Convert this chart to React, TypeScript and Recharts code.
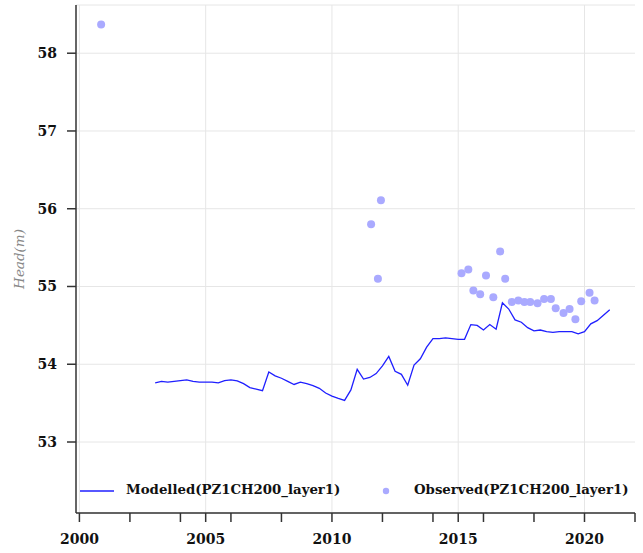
import React from 'react';
import {
  ComposedChart,
  Line,
  Scatter,
  XAxis,
  YAxis,
  CartesianGrid,
  ReferenceLine,
} from 'recharts';

// Modelled head, quarterly model output (decimal year, m)
const modelledYears = [
  2003.0, 2003.25, 2003.5, 2003.75, 2004.0, 2004.25, 2004.5, 2004.75,
  2005.0, 2005.25, 2005.5, 2005.75, 2006.0, 2006.25, 2006.5, 2006.75,
  2007.0, 2007.25, 2007.5, 2007.75, 2008.0, 2008.25, 2008.5, 2008.75,
  2009.0, 2009.25, 2009.5, 2009.75, 2010.0, 2010.25, 2010.5, 2010.75,
  2011.0, 2011.25, 2011.5, 2011.75, 2012.0, 2012.25, 2012.5, 2012.75,
  2013.0, 2013.25, 2013.5, 2013.75, 2014.0, 2014.25, 2014.5, 2014.75,
  2015.0, 2015.25, 2015.5, 2015.75, 2016.0, 2016.25, 2016.5, 2016.75,
  2017.0, 2017.25, 2017.5, 2017.75, 2018.0, 2018.25, 2018.5, 2018.75,
  2019.0, 2019.25, 2019.5, 2019.75, 2020.0, 2020.25, 2020.5, 2020.75,
  2021.0,
];
const modelledHead = [
  53.76, 53.78, 53.77, 53.78, 53.79, 53.8, 53.78, 53.77,
  53.77, 53.77, 53.76, 53.79, 53.8, 53.785, 53.75, 53.7,
  53.68, 53.66, 53.9, 53.85, 53.82, 53.78, 53.74, 53.77,
  53.75, 53.725, 53.69, 53.63, 53.59, 53.56, 53.535, 53.67,
  53.935, 53.81, 53.83, 53.88, 53.98, 54.1, 53.91, 53.87,
  53.73, 53.99, 54.07, 54.22, 54.33, 54.33, 54.34, 54.33,
  54.32, 54.32, 54.51, 54.5, 54.44, 54.51, 54.45, 54.79,
  54.71, 54.57, 54.54, 54.47, 54.43, 54.44, 54.42, 54.41,
  54.42, 54.42, 54.42, 54.39, 54.42, 54.52, 54.56, 54.63,
  54.7,
];

// Observed head (decimal year, m)
const observedYears = [
  2000.86, 2011.55, 2011.82, 2011.94, 2015.13, 2015.4, 2015.6, 2015.87,
  2016.1, 2016.39, 2016.66, 2016.86, 2017.12, 2017.38, 2017.62, 2017.85,
  2018.14, 2018.4, 2018.67, 2018.86, 2019.17, 2019.41, 2019.64, 2019.87,
  2020.2, 2020.4,
];
const observedHead = [
  58.37, 55.8, 55.1, 56.11, 55.17, 55.22, 54.95, 54.9,
  55.14, 54.86, 55.45, 55.1, 54.8, 54.82, 54.8, 54.8,
  54.785, 54.84, 54.84, 54.72, 54.66, 54.71, 54.58, 54.81,
  54.92, 54.82,
];

const xTicks = [2000, 2002, 2004, 2005, 2006, 2008, 2010, 2012, 2014, 2015, 2016, 2018, 2020, 2022];
const xGrid = [2000, 2005, 2010, 2015, 2020];
const yTicks = [53, 54, 55, 56, 57, 58];

const modelled = modelledYears.map((x, i) => ({ x, y: modelledHead[i] }));
const observed = observedYears.map((x, i) => ({ x, y: observedHead[i] }));

const FONT = '"DejaVu Serif", serif';
const LINE_COLOR = '#1f1fff';
const DOT_COLOR = '#aaaaff';
const AXIS_COLOR = '#333333';

const tickStyle = { fill: '#111', fontSize: 14, fontWeight: 700, fontFamily: FONT };

// legend drawn over the plot, bottom-left, like the source figure
const LegendBox = () => (
  <div style={{ position: 'absolute', left: 0, top: 479, width: 643, height: 24, fontFamily: FONT, fontWeight: 700, fontSize: 13.3, color: '#111' }}>
    <svg style={{ position: 'absolute', left: 80, top: 0 }} width={36} height={24}>
      <line x1={0} y1={12} x2={34} y2={12} stroke={LINE_COLOR} strokeWidth={1.3} />
    </svg>
    <span style={{ position: 'absolute', left: 126, top: 3, whiteSpace: 'nowrap' }}>Modelled(PZ1CH200_layer1)</span>
    <svg style={{ position: 'absolute', left: 380, top: 0 }} width={12} height={24}>
      <circle cx={6} cy={12} r={3.2} fill={DOT_COLOR} />
    </svg>
    <span style={{ position: 'absolute', left: 414, top: 3, whiteSpace: 'nowrap' }}>Observed(PZ1CH200_layer1)</span>
  </div>
);

export default function App() {
  return (
    <div style={{ position: 'absolute', left: 0, top: 0, width: 643, height: 553, background: '#fff' }}>
      <ComposedChart width={643} height={553} margin={{ top: 5, right: 8, bottom: 0, left: 0 }}>
        <CartesianGrid vertical={false} stroke="#e6e6e6" />
        {xGrid.map((g) => (
          <ReferenceLine key={g} x={g} stroke="#e6e6e6" />
        ))}
        <XAxis
          type="number"
          dataKey="x"
          domain={[1999.865, 2022]}
          ticks={xTicks}
          interval={0}
          allowDataOverflow
          height={40}
          tickSize={9}
          tickMargin={12}
          stroke={AXIS_COLOR}
          strokeWidth={1.5}
          tick={tickStyle}
          tickFormatter={(v: number) => (v % 5 === 0 ? String(v) : '')}
        />
        <YAxis
          type="number"
          dataKey="y"
          domain={[52.087, 58.62]}
          ticks={yTicks}
          interval={0}
          allowDataOverflow
          width={76}
          tickSize={9}
          tickMargin={10}
          stroke={AXIS_COLOR}
          strokeWidth={1.5}
          tick={tickStyle}
          label={() => (
            <text
              x={19}
              y={259}
              transform="rotate(-90 19 259)"
              textAnchor="middle"
              dominantBaseline="central"
              fill="#888"
              fontStyle="italic"
              fontSize={13.5}
              fontFamily={FONT}
            >
              Head(m)
            </text>
          )}
        />
        <Line
          data={modelled}
          dataKey="y"
          type="linear"
          stroke={LINE_COLOR}
          strokeWidth={1.3}
          dot={false}
          activeDot={false}
          isAnimationActive={false}
        />
        <Scatter
          data={observed}
          dataKey="y"
          fill={DOT_COLOR}
          isAnimationActive={false}
          shape={(p: any) => <circle cx={p.cx} cy={p.cy} r={4} fill={DOT_COLOR} />}
        />
      </ComposedChart>
      <LegendBox />
    </div>
  );
}
